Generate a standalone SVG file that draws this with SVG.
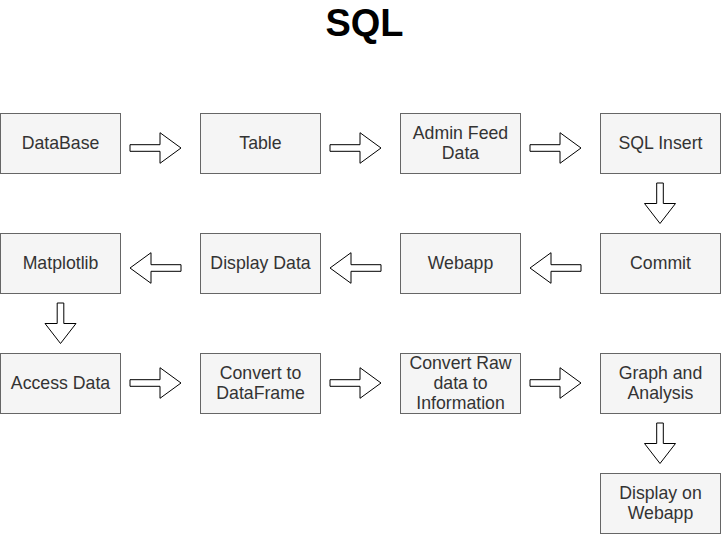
<svg xmlns="http://www.w3.org/2000/svg" width="721" height="534" viewBox="0 0 721 534">
<defs>
<style>
.box{fill:#f5f5f5;stroke:#666666;stroke-width:1}
.lbl{font-family:"Liberation Sans",Arial,Helvetica,sans-serif;font-size:17.7px;fill:#333333;text-anchor:middle}
.arr{fill:#ffffff;stroke:#000000;stroke-width:1;stroke-linejoin:miter}
.title{font-family:"Liberation Sans",Arial,Helvetica,sans-serif;font-size:38px;font-weight:bold;fill:#000000;text-anchor:middle}
</style>
<path id="harrow" d="M0,-3.3 L30,-3.3 L30,-15.3 L51,0 L30,15.3 L30,3.3 L0,3.3 Z"/>
<path id="varrow" d="M-3.3,0 L3.3,0 L3.3,20.5 L15.5,20.5 L0,40.5 L-15.5,20.5 L-3.3,20.5 Z"/>
</defs>
<rect width="721" height="534" fill="#ffffff"/>
<text class="title" x="364.5" y="36">SQL</text>
<g id="connectors">
<use href="#harrow" class="arr" transform="translate(130,148)"/>
<use href="#harrow" class="arr" transform="translate(330,148)"/>
<use href="#harrow" class="arr" transform="translate(530,148)"/>
<use href="#varrow" class="arr" transform="translate(660,183)"/>
<use href="#harrow" class="arr" transform="translate(581,268) rotate(180)"/>
<use href="#harrow" class="arr" transform="translate(381,268) rotate(180)"/>
<use href="#harrow" class="arr" transform="translate(181,268) rotate(180)"/>
<use href="#varrow" class="arr" transform="translate(60.5,303)"/>
<use href="#harrow" class="arr" transform="translate(130,383)"/>
<use href="#harrow" class="arr" transform="translate(330,383)"/>
<use href="#harrow" class="arr" transform="translate(530,383)"/>
<use href="#varrow" class="arr" transform="translate(660,423)"/>
</g>
<g id="n-database"><rect class="box" x="0.5" y="113.5" width="120" height="60"/><text class="lbl" x="60.5" y="148.8">DataBase</text></g>
<g id="n-table"><rect class="box" x="200.5" y="113.5" width="120" height="60"/><text class="lbl" x="260.5" y="148.8">Table</text></g>
<g id="n-adminfeed"><rect class="box" x="400.5" y="113.5" width="120" height="60"/><text class="lbl" x="460.5" y="138.8">Admin Feed</text><text class="lbl" x="460.5" y="158.8">Data</text></g>
<g id="n-sqlinsert"><rect class="box" x="600.5" y="113.5" width="120" height="60"/><text class="lbl" x="660.5" y="148.8">SQL Insert</text></g>
<g id="n-commit"><rect class="box" x="600.5" y="233.5" width="120" height="60"/><text class="lbl" x="660.5" y="268.8">Commit</text></g>
<g id="n-webapp"><rect class="box" x="400.5" y="233.5" width="120" height="60"/><text class="lbl" x="460.5" y="268.8">Webapp</text></g>
<g id="n-displaydata"><rect class="box" x="200.5" y="233.5" width="120" height="60"/><text class="lbl" x="260.5" y="268.8">Display Data</text></g>
<g id="n-matplotlib"><rect class="box" x="0.5" y="233.5" width="120" height="60"/><text class="lbl" x="60.5" y="268.8">Matplotlib</text></g>
<g id="n-accessdata"><rect class="box" x="0.5" y="353.5" width="120" height="60"/><text class="lbl" x="60.5" y="388.8">Access Data</text></g>
<g id="n-convertdf"><rect class="box" x="200.5" y="353.5" width="120" height="60"/><text class="lbl" x="260.5" y="378.8">Convert to</text><text class="lbl" x="260.5" y="398.8">DataFrame</text></g>
<g id="n-convertraw"><rect class="box" x="400.5" y="353.5" width="120" height="60"/><text class="lbl" x="460.5" y="368.8">Convert Raw</text><text class="lbl" x="460.5" y="388.8">data to</text><text class="lbl" x="460.5" y="408.8">Information</text></g>
<g id="n-graph"><rect class="box" x="600.5" y="353.5" width="120" height="60"/><text class="lbl" x="660.5" y="378.8">Graph and</text><text class="lbl" x="660.5" y="398.8">Analysis</text></g>
<g id="n-displaywebapp"><rect class="box" x="600.5" y="473.5" width="120" height="60"/><text class="lbl" x="660.5" y="498.8">Display on</text><text class="lbl" x="660.5" y="518.8">Webapp</text></g>
</svg>
